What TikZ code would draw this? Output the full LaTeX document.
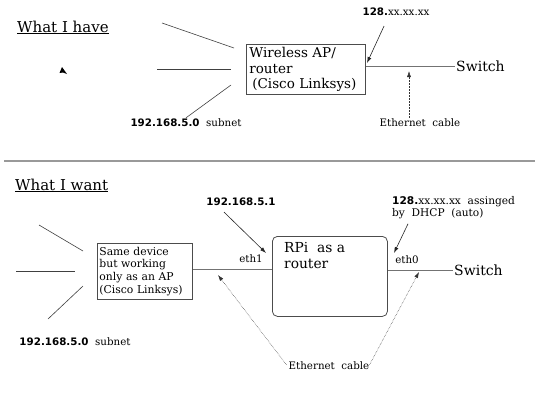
\documentclass[tikz,border=0pt]{standalone}
\usepackage{fontspec}
\setmainfont{DejaVu Serif}
\setsansfont{DejaVu Sans}
\usepackage{tikz}
\usetikzlibrary{calc,arrows.meta}

\newcommand{\ipnum}[1]{{\sffamily\bfseries #1}}

\begin{document}
\begin{tikzpicture}[x=1pt,y=-1pt,
    wire/.style={draw=black!55, line width=1pt},
    fan/.style={draw=black!75, line width=0.6pt},
    devbox/.style={draw=black!70, line width=0.8pt, anchor=north west, align=left, inner sep=3pt},
    pointer/.style={draw=black!85, line width=0.6pt, -{Latex[length=6pt,width=4pt]}},
    cable/.style={draw=black!80, line width=0.5pt, densely dotted, -{Latex[length=6pt,width=4pt]}},
    note/.style={font=\fontsize{10.3}{12}\selectfont, inner sep=1pt},
    big/.style={font=\fontsize{14}{16}\selectfont, inner sep=1pt}]
    \useasboundingbox (0,0) rectangle (540,405);
    %%%%% WHAT I HAVE %%%%%
    \node[anchor=base west, font=\fontsize{15}{16}\selectfont, inner sep=0pt] (have) at (17,32) {\underline{What\ I\ have}};
    
    \draw[fan] (162,23) -- (234,48);
    \draw[fan] (157,69) -- (231,69);
    \fill[black] (62,67) -- (67,74) -- (63,72.5) -- (59.5,73) -- cycle;
    
    \node[devbox, minimum width=119, minimum height=50, text width=113, font=\fontsize{13.5}{15.5}\selectfont] (ap) at (246,44)
        {Wireless AP/\\router\\\hspace*{3pt}(Cisco Linksys)};
    
    \node[note] (subA) at (186,123) {\ipnum{192.168.5.0}\ \ subnet};
    \draw[fan] (subA.north) -- (231,85);
    
    \node[big, anchor=west] (swA) at (455,66) {Switch};
    \draw[wire] (swA.west -| ap.east) -- (swA.west);
    
    \node[note] (ipA) at (396,12) {\ipnum{128.}xx.xx.xx};
    \coordinate (ipAtip) at (367,63);
    \draw[pointer] ([xshift=-12pt,yshift=-9pt]ipA.south) -- (ipAtip);
    
    \node[note] (cabA) at (420,123) {Ethernet\ \ cable};
    \coordinate (cabAtip) at (409,71);
    \draw[cable] (cabA.north -| cabAtip) -- (cabAtip);
    
    \draw[draw=black!40, line width=1.6pt] (4,161) -- (535,161);
    
    %%%%% WHAT I WANT %%%%%
    \node[anchor=base west, font=\fontsize{15}{16}\selectfont, inner sep=0pt] (want) at (15,190) {\underline{What\ I\ want}};
    
    \draw[fan] (39,225) -- (83,251);
    \draw[fan] (16,271) -- (75,271);
    \draw[fan] (48,319) -- (83,286);
    
    \node[devbox, minimum width=95, minimum height=56, text width=91, inner sep=2pt, font=\fontsize{10.8}{12.7}\selectfont] (apB) at (97,243)
        {Same device\\but working\\only as an AP\\(Cisco Linksys)};
    \node[note] (subB) at (75,342) {\ipnum{192.168.5.0}\ \ subnet};
    
    \node[devbox, rounded corners=5pt, minimum width=115, minimum height=80] (rpi) at (272,236) {};
    \node[big, anchor=north west, align=left, font=\fontsize{13.8}{16.5}\selectfont] (rpitext) at ([xshift=11pt,yshift=-5pt]rpi.north west) {RPi\ \ as\ a\\router};
    \draw[wire] (apB.east |- 0,269) -- (rpi.west |- 0,269);
    
    \node[note, anchor=base] (ethOne) at (251,262) {eth1};
    \node[note, anchor=base] (ethZero) at (407,263) {eth0};
    
    \node[big, anchor=west] (swB) at (453,270) {Switch};
    \draw[wire] (swB.west -| rpi.east) -- (swB.west);
    
    \node[note] (ipB) at (241,202) {\ipnum{192.168.5.1}};
    \coordinate (ipBtip) at (266,253);
    \draw[pointer] ([xshift=-17pt,yshift=-5pt]ipB.south) -- (ipBtip);
    
    \node[note, anchor=north west, align=left, font=\fontsize{10.6}{12}\selectfont] (ipC) at (391,195) {\ipnum{128.}xx.xx.xx\ \ assinged\\by\ \ DHCP\ \ (auto)};
    \coordinate (ipCtip) at (394,253);
    \draw[pointer] ([xshift=17pt,yshift=-4pt]ipC.south west) -- (ipCtip);
    
    \node[note] (cabB) at (329,366) {Ethernet\ \ cable};
    \coordinate (cabBleft) at (218,275);
    \coordinate (cabBright) at (419,272);
    \draw[cable] ([xshift=-1pt,yshift=-4pt]cabB.north west) -- (cabBleft);
    \draw[cable] ([xshift=-1pt,yshift=-4pt]cabB.north east) -- (cabBright);
\end{tikzpicture}
\end{document}
